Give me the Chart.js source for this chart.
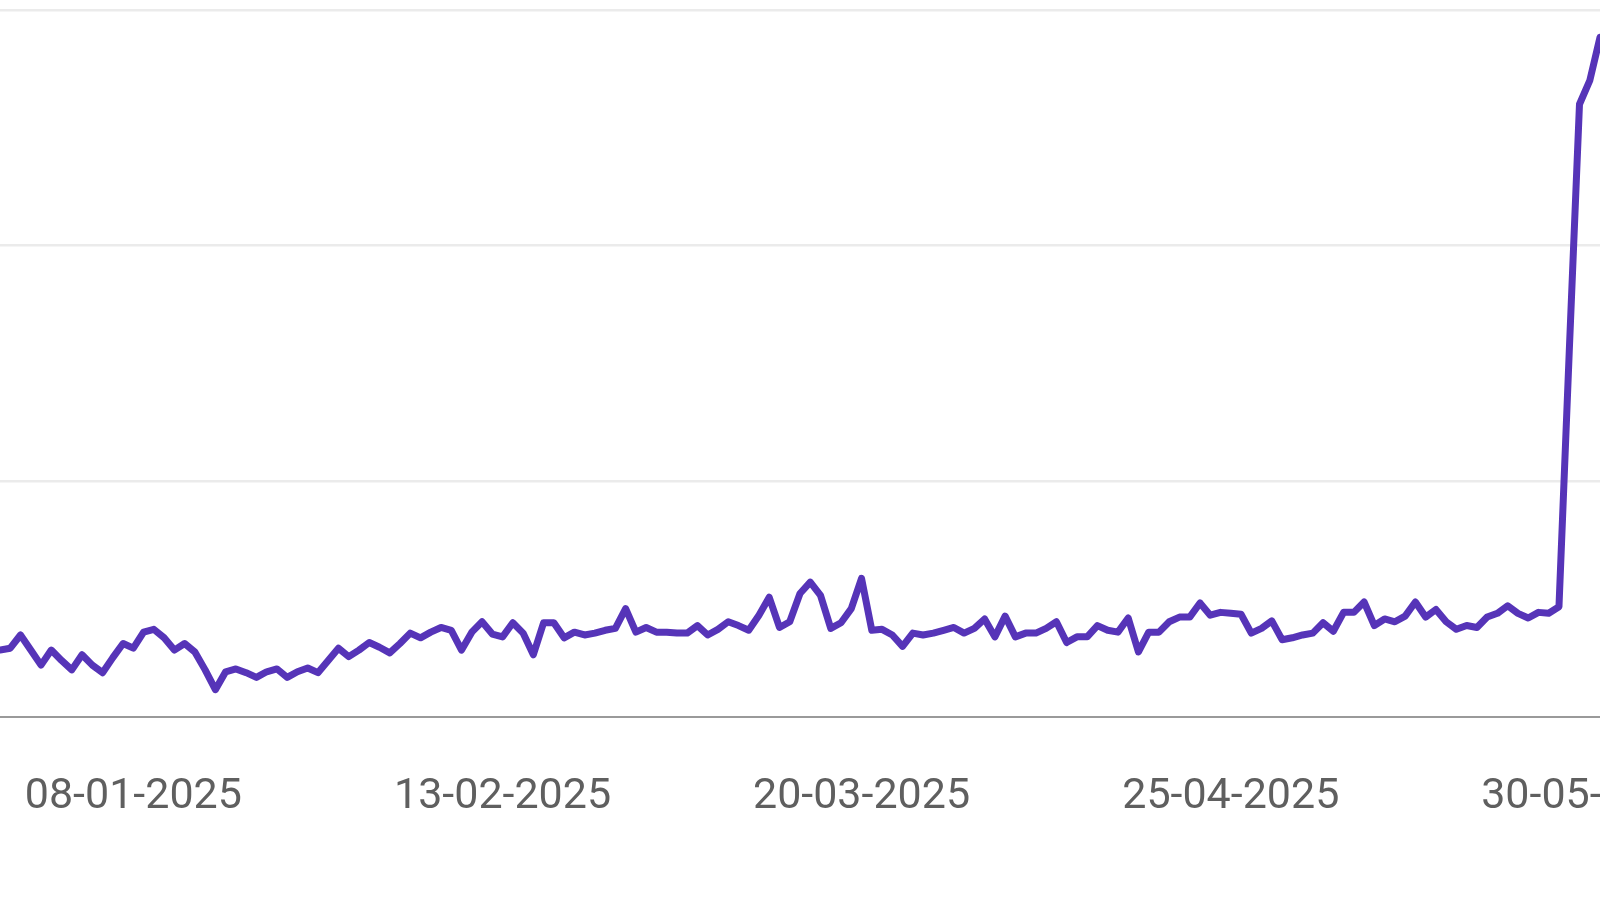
<!DOCTYPE html>
<html>
<head>
<meta charset="utf-8">
<script src="https://cdn.jsdelivr.net/npm/chart.js@4/dist/chart.umd.min.js"></script>
<style>
  html, body { margin: 0; padding: 0; background: #fff; overflow: hidden; }
  canvas { display: block; }
</style>
</head>
<body>
<canvas id="chart" width="1600" height="900"></canvas>
<script>
// daily series, 26-12-2024 .. 31-05-2025
const startDate = Date.UTC(2024, 11, 26);
const dayCount = 157;

const values = [
  7.1, 7.3, 8.7, 7.1, 5.5, 7.1, 6.0, 5.0, 6.6, 5.5, 4.7, 6.3, 7.8,
  7.3, 9.0, 9.3, 8.4, 7.1, 7.8, 6.9, 5.0, 2.9, 4.8, 5.1, 4.7, 4.2,
  4.8, 5.1, 4.2, 4.8, 5.2, 4.7, 6.0, 7.3, 6.4, 7.1, 7.9, 7.4, 6.8,
  7.8, 8.9, 8.4, 9.0, 9.5, 9.2, 7.1, 9.0, 10.1, 8.8, 8.5, 10.0, 8.9,
  6.6, 10.0, 10.0, 8.4, 9.0, 8.7, 8.9, 9.2, 9.4, 11.5, 9.0, 9.5, 9.0,
  9.0, 8.9, 8.9, 9.7, 8.7, 9.3, 10.1, 9.7, 9.2, 10.8, 12.7, 9.5, 10.1,
  13.1, 14.3, 12.9, 9.4, 10.0, 11.5, 14.7, 9.2, 9.3, 8.7, 7.5, 8.9, 8.7,
  8.9, 9.2, 9.5, 8.9, 9.4, 10.4, 8.5, 10.7, 8.5, 8.9, 8.9, 9.4, 10.1,
  7.9, 8.5, 8.5, 9.7, 9.2, 9.0, 10.5, 6.9, 9.0, 9.0, 10.1, 10.6, 10.6,
  12.1, 10.8, 11.1, 11.0, 10.9, 8.9, 9.4, 10.2, 8.2, 8.4, 8.7, 8.9, 10.0,
  9.1, 11.1, 11.1, 12.2, 9.7, 10.4, 10.1, 10.7, 12.2, 10.6, 11.4, 10.1, 9.3,
  9.7, 9.5, 10.6, 11.0, 11.8, 11.0, 10.5, 11.1, 11.0, 11.7, 38.7, 65.0, 67.5,
  72.1
];

const tickLabels = ['08-01-2025', '13-02-2025', '20-03-2025', '25-04-2025', '30-05-2025'];
const gridValues = [0, 25, 50, 75];

function fmt(ms) {
  const d = new Date(ms);
  const dd = String(d.getUTCDate()).padStart(2, '0');
  const mm = String(d.getUTCMonth() + 1).padStart(2, '0');
  return dd + '-' + mm + '-' + d.getUTCFullYear();
}

const dates = [];
for (let i = 0; i < dayCount; i++) {
  dates.push(fmt(startDate + i * 86400000));
}

const fontSize = 43;
const tickPad = 54;

new Chart(document.getElementById('chart'), {
  type: 'line',
  data: {
    labels: dates,
    datasets: [{
      data: values,
      borderColor: '#5634b8',
      borderWidth: 7,
      pointRadius: 0,
      tension: 0,
      borderJoinStyle: 'round',
      borderCapStyle: 'round',
      fill: false
    }]
  },
  options: {
    responsive: false,
    animation: false,
    layout: {
      // x axis ends up taking the tick padding twice, hence 2 * tickPad
      padding: { left: 0, right: 0, top: 10, bottom: 900 - 717 - 2 * tickPad - fontSize * 1.2 }
    },
    plugins: {
      legend: { display: false },
      tooltip: { enabled: false }
    },
    scales: {
      x: {
        offset: false,
        grid: { display: false, drawTicks: false },
        border: { display: true, color: '#9a9a9a', width: 2 },
        ticks: {
          autoSkip: false,
          maxRotation: 0,
          minRotation: 0,
          padding: tickPad,
          color: '#5f5f5f',
          font: { family: 'Roboto', size: fontSize },
          callback: function (val, i) {
            const lbl = dates[i];
            return tickLabels.includes(lbl) ? lbl : '';
          }
        },
        // the picture is a crop: let the plot run to the canvas edges
        afterFit: function (scale) {
          scale.paddingLeft = 0;
          scale.paddingRight = 0;
          scale.paddingTop = 0;
          scale.paddingBottom = 0;
        }
      },
      y: {
        min: gridValues[0],
        max: gridValues[gridValues.length - 1],
        afterBuildTicks: function (scale) {
          scale.ticks = gridValues.map(v => ({ value: v }));
        },
        grid: {
          drawTicks: false,
          lineWidth: 2.5,
          color: ctx => ctx.tick && ctx.tick.value === 0 ? 'rgba(0,0,0,0)' : '#ebebeb'
        },
        border: { display: false },
        ticks: { display: false },
        afterFit: function (scale) {
          scale.width = 0;
        }
      }
    }
  }
});
</script>
</body>
</html>
